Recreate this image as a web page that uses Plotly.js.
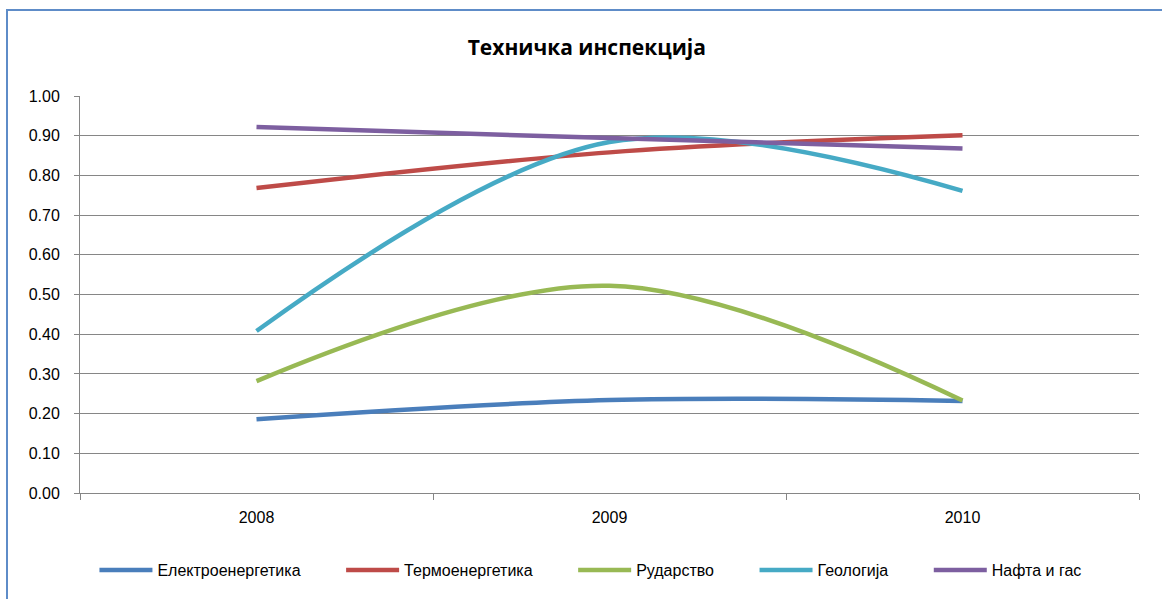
<!DOCTYPE html>
<html>
<head>
<meta charset="utf-8">
<script src="https://cdn.plot.ly/plotly-3.0.1.min.js"></script>
<style>
  html, body { margin: 0; padding: 0; background: #fff; }
  #wrap { position: relative; width: 1162px; height: 599px; overflow: hidden; }
  #chart { position: absolute; left: 0; top: 0; width: 1162px; height: 599px; }
  #frame { position: absolute; left: 6px; top: 9px; width: 1170px; height: 620px;
           border: 2px solid #5E8CC8; box-sizing: border-box; pointer-events: none; }
</style>
</head>
<body>
<div id="wrap">
  <div id="chart"></div>
  <div id="frame"></div>
</div>
<script>
const titleText = "Техничка инспекција";
const years = ["2008", "2009", "2010"];
const seriesNames = ["Електроенергетика", "Термоенергетика", "Рударство", "Геологија", "Нафта и гас"];
const elektro = [0.186, 0.234, 0.232];
const termo = [0.768, 0.858, 0.901];
const rudarstvo = [0.282, 0.522, 0.233];
const geologija = [0.408, 0.884, 0.761];
const nafta = [0.922, 0.894, 0.868];
const yTicks = [0, 0.1, 0.2, 0.3, 0.4, 0.5, 0.6, 0.7, 0.8, 0.9, 1.0];
const colors = ["#4A7EBB", "#BE4B48", "#98B954", "#46AAC5", "#7D5FA0"];

const allValues = [elektro, termo, rudarstvo, geologija, nafta];
const FONT = "Liberation Sans, Arial, sans-serif";
const PAD = "\u00a0".repeat(8);

const traces = allValues.map((vals, i) => ({
  type: "scatter",
  mode: "lines",
  x: years,
  y: vals,
  name: seriesNames[i] + (i < allValues.length - 1 ? PAD : ""),
  line: { color: colors[i], width: 4.5, shape: "spline", smoothing: 1 },
  hoverinfo: "skip"
}));

const layout = {
  width: 1162,
  height: 599,
  margin: { l: 80, r: 23, t: 96, b: 106 },
  paper_bgcolor: "#ffffff",
  plot_bgcolor: "#ffffff",
  font: { family: FONT, size: 16, color: "#000" },
  title: {
    text: "<b>" + titleText + "</b>",
    font: { family: "Open Sans, Liberation Sans, sans-serif", size: 21, color: "#000" },
    x: 0.505, xref: "container", xanchor: "center",
    y: 0.921, yref: "container", yanchor: "middle"
  },
  xaxis: {
    type: "category",
    range: [-0.5, 2.5],
    showgrid: false,
    showline: true,
    linecolor: "#868686",
    linewidth: 1,
    ticks: "outside",
    tickson: "boundaries",
    ticklen: 6,
    tickcolor: "#868686",
    ticklabelstandoff: 10,
    tickfont: { family: FONT, size: 16, color: "#000" },
    fixedrange: true
  },
  yaxis: {
    range: [0, 1.0],
    tickvals: yTicks,
    ticktext: yTicks.map(v => v.toFixed(2)),
    showgrid: true,
    gridcolor: "#868686",
    gridwidth: 1,
    zeroline: false,
    showline: true,
    linecolor: "#868686",
    linewidth: 1,
    ticks: "outside",
    ticklen: 5,
    tickcolor: "#868686",
    ticklabelstandoff: 11,
    tickfont: { family: FONT, size: 16, color: "#000" },
    fixedrange: true
  },
  showlegend: true,
  legend: {
    orientation: "h",
    x: 0.482, xanchor: "center",
    y: -0.194, yanchor: "middle",
    font: { family: FONT, size: 16, color: "#000" },
    bgcolor: "rgba(0,0,0,0)",
    itemwidth: 53,
    tracegroupgap: 0
  }
};

Plotly.newPlot("chart", traces, layout, { displayModeBar: false, staticPlot: true });
</script>
</body>
</html>
